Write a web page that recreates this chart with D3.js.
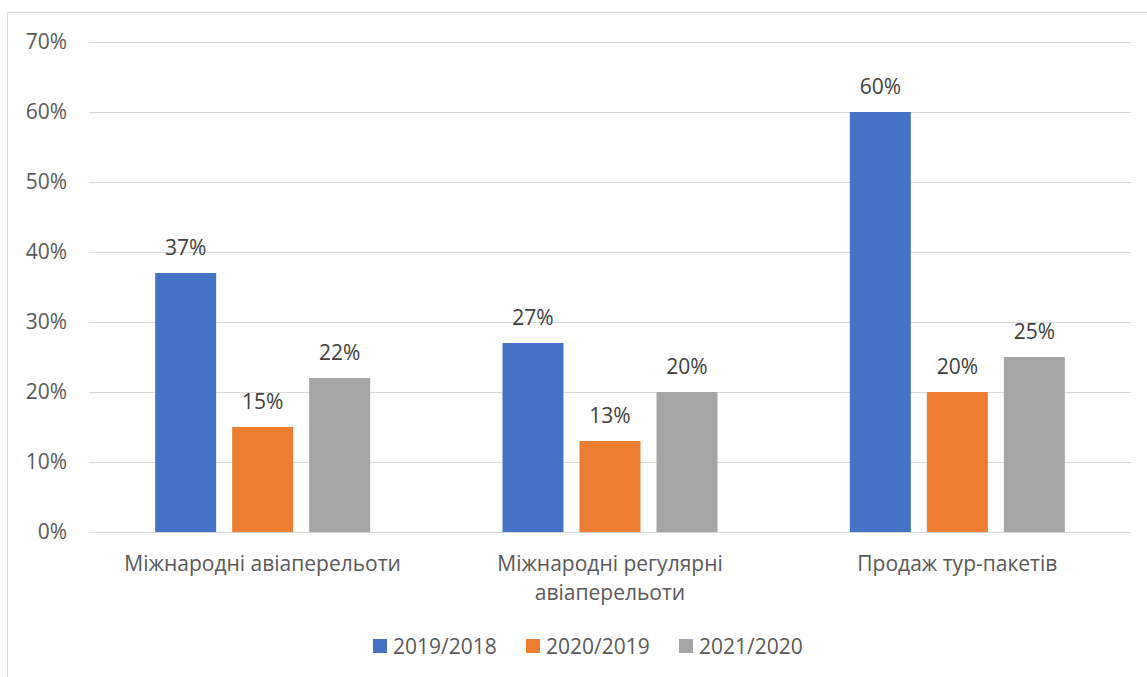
<!DOCTYPE html>
<html>
<head>
<meta charset="utf-8">
<script src="https://cdn.jsdelivr.net/npm/d3@7"></script>
<style>
  html, body { margin: 0; padding: 0; background: #ffffff; }
  svg text { font-family: "Open Sans", "Noto Sans", sans-serif; fill: #595959; }
</style>
</head>
<body>
<svg id="chart" width="1147" height="677"></svg>
<script>
// Categories, series and values
const categories = ["Міжнародні авіаперельоти", "Міжнародні регулярні авіаперельоти", "Продаж тур-пакетів"];
const categoryLines = [["Міжнародні авіаперельоти"], ["Міжнародні регулярні", "авіаперельоти"], ["Продаж тур-пакетів"]];
const seriesNames = ["2019/2018", "2020/2019", "2021/2020"];
const seriesColors = ["#4472c4", "#ed7d31", "#a5a5a5"];
const values2019 = [37, 27, 60];
const values2020 = [15, 13, 20];
const values2021 = [22, 20, 25];
const yTicks = [0, 10, 20, 30, 40, 50, 60, 70];

const FONT = 21;

const seriesValues = [values2019, values2020, values2021];
const rows = categories.map((c, i) => ({
  category: c,
  values: seriesNames.map((s, j) => ({ series: s, value: seriesValues[j][i], color: seriesColors[j] }))
}));

const svg = d3.select("#chart");

// outer chart frame
svg.append("rect")
  .attr("x", 7.5).attr("y", 12.5)
  .attr("width", 1160).attr("height", 700)
  .attr("fill", "none").attr("stroke", "#d9d9d9").attr("stroke-width", 1);

const plot = { left: 89, right: 1131, top: 42, bottom: 532 };

const x0 = d3.scaleBand().domain(categories).range([plot.left, plot.right]).paddingInner(0).paddingOuter(0);
const x1 = d3.scaleBand().domain(seriesNames).range([0, 215]).paddingInner(0.208).paddingOuter(0);
const y = d3.scaleLinear().domain([0, 70]).range([plot.bottom, plot.top]);

// gridlines
svg.append("g").selectAll("line").data(yTicks).join("line")
  .attr("x1", plot.left).attr("x2", plot.right)
  .attr("y1", d => Math.round(y(d)) + 0.5).attr("y2", d => Math.round(y(d)) + 0.5)
  .attr("stroke", "#d9d9d9").attr("stroke-width", 1.2);

// y axis labels
const yAxis = d3.axisLeft(y).tickValues(yTicks).tickFormat(d => d + "%").tickSize(0).tickPadding(0);
const yg = svg.append("g").attr("transform", `translate(67,0)`).call(yAxis);
yg.attr("font-size", FONT).attr("font-family", null);
yg.select(".domain").remove();
yg.selectAll("text").attr("font-size", FONT).attr("fill", "#595959");

// bars
const groups = svg.append("g").selectAll("g").data(rows).join("g")
  .attr("transform", d => `translate(${x0(d.category) + (x0.bandwidth() - 215) / 2},0)`);

groups.selectAll("rect").data(d => d.values).join("rect")
  .attr("x", d => x1(d.series))
  .attr("width", x1.bandwidth())
  .attr("y", d => y(d.value))
  .attr("height", d => y(0) - y(d.value))
  .attr("fill", d => d.color);

groups.selectAll("text.val").data(d => d.values).join("text")
  .attr("class", "val")
  .attr("x", d => x1(d.series) + x1.bandwidth() / 2)
  .attr("y", d => y(d.value) - 18)
  .attr("text-anchor", "middle")
  .attr("font-size", FONT)
  .style("fill", "#404040")
  .text(d => d.value + "%");

// category labels
const catG = svg.append("g").selectAll("text").data(categories).join("text")
  .attr("x", d => x0(d) + x0.bandwidth() / 2)
  .attr("y", 571)
  .attr("text-anchor", "middle")
  .attr("font-size", FONT);
catG.each(function(d, i) {
  d3.select(this).selectAll("tspan").data(categoryLines[i]).join("tspan")
    .attr("x", x0(d) + x0.bandwidth() / 2)
    .attr("dy", (l, k) => k === 0 ? 0 : 29)
    .text(l => l);
});

// legend
const legendX = [373, 526, 679];
const lg = svg.append("g").selectAll("g").data(seriesNames).join("g")
  .attr("transform", (d, i) => `translate(${legendX[i]},639)`);
lg.append("rect").attr("width", 14).attr("height", 14).attr("fill", (d, i) => seriesColors[i]);
lg.append("text").attr("x", 20).attr("y", 15).attr("font-size", FONT).text(d => d);
</script>
</body>
</html>
